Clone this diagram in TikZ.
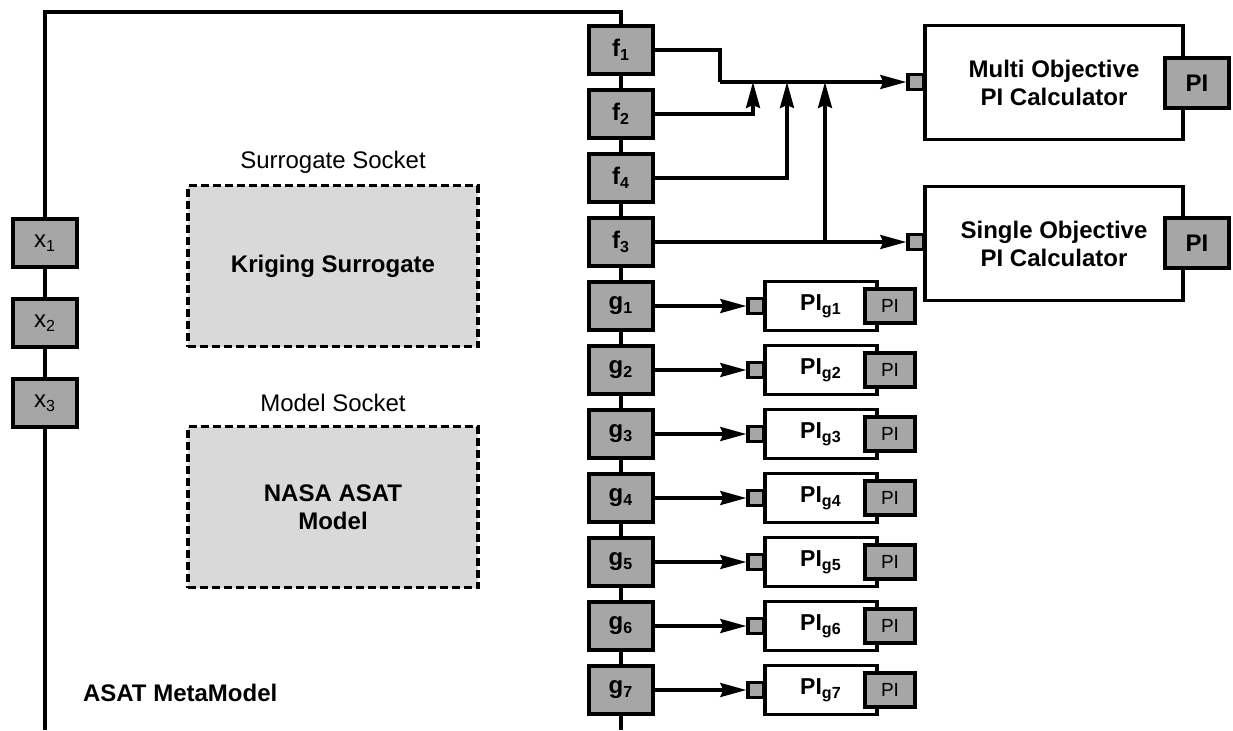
\documentclass[tikz,border=0pt]{standalone}
\usepackage{fontspec}
\setmainfont{Liberation Sans}
\usepackage{tikz}
\usetikzlibrary{arrows.meta,positioning}
\usepackage{xcolor}
\definecolor{portgray}{HTML}{A6A6A6}
\definecolor{sockgray}{HTML}{D9D9D9}
\newcommand{\dgfont}{\fontsize{12}{14}\selectfont}

\begin{document}
\begin{tikzpicture}[
  x=0.5pt, y=-0.5pt,
  font=\dgfont,
  port/.style={draw, line width=1.9pt, fill=portgray, minimum width=32pt, minimum height=24pt, inner sep=0pt, font=\dgfont},
  bport/.style={port, font=\dgfont\bfseries},
  pin/.style={draw, line width=1.7pt, fill=portgray, minimum width=8pt, minimum height=7.5pt, inner sep=0pt},
  calc/.style={draw, line width=1.9pt, fill=white, minimum width=129pt, minimum height=57pt, align=center, font=\dgfont\bfseries},
  sock/.style={draw, dash pattern=on 4pt off 2pt, line width=1.6pt, fill=sockgray, minimum width=145pt, minimum height=80.5pt, align=center, font=\dgfont\bfseries},
  pig/.style={draw, line width=1.9pt, fill=white, minimum width=56pt, minimum height=24.5pt, inner sep=0pt, font=\fontsize{11.5}{13}\selectfont\bfseries},
  piport/.style={port, minimum width=25pt, minimum height=17pt, font=\fontsize{9.5}{11}\selectfont},
  wire/.style={line width=1.6pt},
  tip/.style={wire, -{Stealth[length=13pt, width=7pt, inset=1.5pt]}}
]
\useasboundingbox (0,0) rectangle (1233,730);
% MetaModel frame
\draw[line width=1.9pt] (45,730) -- (45,12) -- (621,12) -- (621,730);
\node[font=\dgfont\bfseries, anchor=west] (title) at (76,693) {ASAT MetaModel};
% Sockets
\node (sslbl) at (333,162) {Surrogate Socket};
\node[sock] (surr) at (333,266) {Kriging Surrogate};
\node (mslbl) at (333,403) {Model Socket};
\node[sock] (model) at (333,507) {NASA ASAT\\Model};
% Inputs
\foreach \i/\y in {1/243,2/323,3/403} {\node[port] (x\i) at (45,\y) {x\textsubscript{\i}};}
% Objectives and constraints
\foreach \i/\y in {1/50,2/114,4/178,3/242} {\node[bport] (f\i) at (621,\y) {f\textsubscript{\i}};}
\foreach \i in {1,...,7} {\node[bport] (g\i) at (621,{242+64*\i}) {g\textsubscript{\i}};}
% PI calculators
\node[calc] (multi) at (1054,82.5) {Multi Objective\\PI Calculator};
\node[bport, minimum height=25pt] (mpi) at (1197,83) {PI};
\node[pin] (mip) at (916,82) {};
\node[calc] (single) at (1054,243.5) {Single Objective\\PI Calculator};
\node[bport, minimum height=25pt] (spi) at (1197,243) {PI};
\node[pin] (sip) at (916,242) {};
\foreach \i in {1,...,7} {
  \node[pig] (pg\i) at (821,{242+64*\i}) {PI\textsubscript{g\i}};
  \node[piport] (pgo\i) at (890,{242+64*\i}) {PI};
  \node[pin] (pgi\i) at (756,{242+64*\i}) {};
  \draw[tip] (g\i.east) -- (pgi\i.west);
}
% f wiring
\coordinate (k1) at (720,82);
\coordinate (j2) at (753,82);
\coordinate (j4) at (787,82);
\coordinate (j3) at (825,82);
\draw[wire] (f1.east) -| (k1);
\draw[tip] (k1) -- (mip.west);
\draw[tip] (f2.east) -| (j2);
\draw[tip] (f4.east) -| (j4);
\draw[tip] (f3.east) -| (j3);
\draw[tip] (f3.east) -- (sip.west);
\end{tikzpicture}
\end{document}
